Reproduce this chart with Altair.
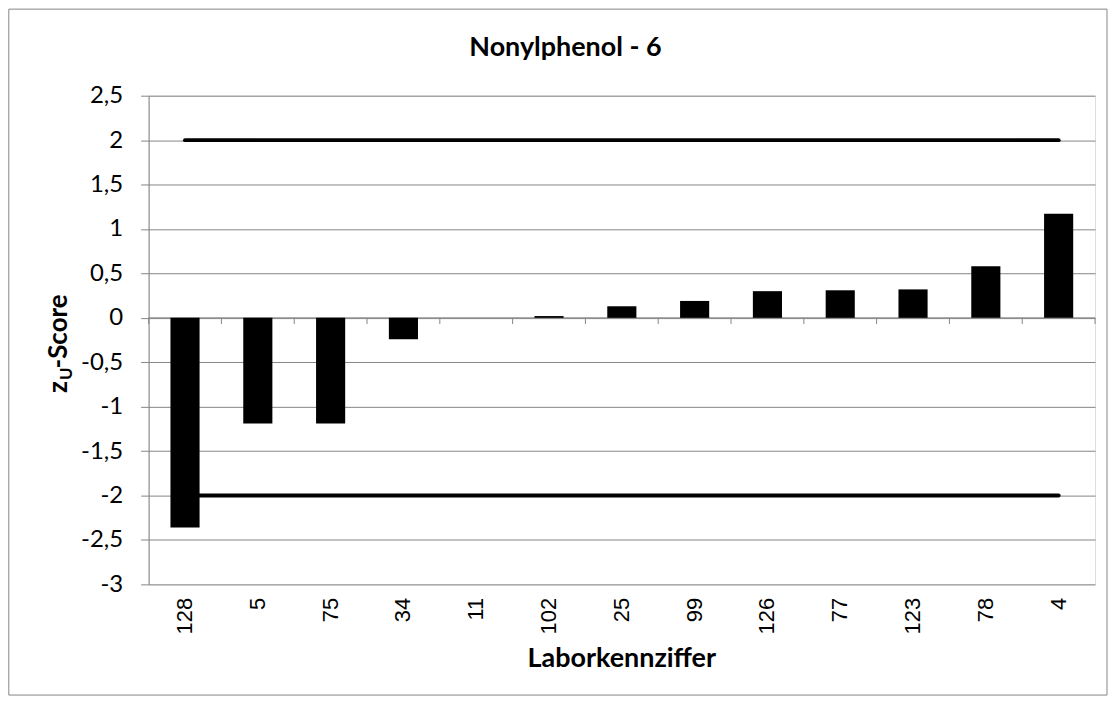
import altair as alt
import pandas as pd

# ---- data ----
labs = ["128", "5", "75", "34", "11", "102", "25", "99", "126", "77", "123", "78", "4"]
zscores = [-2.36, -1.19, -1.19, -0.24, 0.0, 0.02, 0.13, 0.19, 0.30, 0.31, 0.32, 0.58, 1.17]
limit_upper = 2
limit_lower = -2
y_ticks = [-3, -2.5, -2, -1.5, -1, -0.5, 0, 0.5, 1, 1.5, 2, 2.5]
title_text = "Nonylphenol - 6"
x_title = "Laborkennziffer"

W = 949
H = 490
GRAY = "#868686"

df = pd.DataFrame({"Lab": labs, "z": zscores})
lim = pd.DataFrame({
    "Lab": [labs[0], labs[-1], labs[0], labs[-1]],
    "z": [limit_upper, limit_upper, limit_lower, limit_lower],
    "grp": ["o", "o", "u", "u"],
})
one = pd.DataFrame({"k": [0]})

xenc = alt.X(
    "Lab:N",
    sort=labs,
    scale=alt.Scale(paddingInner=0, paddingOuter=0),
    title=None,
    axis=alt.Axis(
        ticks=False, domain=False, grid=False,
        labelAngle=-90, labelFont="Liberation Sans", labelFontSize=22,
        labelColor="black", labelPadding=13,
    ),
)
yenc = alt.Y(
    "z:Q",
    scale=alt.Scale(domain=[-3, 2.5], nice=False, zero=False),
    title=None,
    axis=alt.Axis(
        values=y_ticks,
        labelExpr="replace(toString(datum.value), '.', ',')",
        grid=True, gridColor=GRAY, gridWidth=1,
        domainColor=GRAY, tickColor=GRAY, tickSize=8,
        labelFont="Lato", labelFontSize=24, labelColor="black", labelPadding=18,
    ),
)

zero_line = alt.Chart(one).mark_rule(color=GRAY, strokeWidth=1).encode(
    x=alt.value(0), x2=alt.value(W), y=alt.datum(0)
)
bars = alt.Chart(df).mark_bar(color="black", width=alt.RelativeBandSize(0.4)).encode(
    x=xenc, y=yenc
)
ticks = alt.Chart(df).mark_rule(color=GRAY, strokeWidth=1).encode(
    x=alt.X("Lab:N", sort=labs, bandPosition=0),
    y=alt.datum(0), y2=alt.datum(-0.07),
)
end_tick = alt.Chart(one).mark_rule(color=GRAY, strokeWidth=1).encode(
    x=alt.value(W), y=alt.datum(0), y2=alt.datum(-0.07)
)
lines = alt.Chart(lim).mark_line(color="black", strokeWidth=4, strokeCap="round").encode(
    x=alt.X("Lab:N", sort=labs), y=alt.Y("z:Q"), detail="grp:N"
)

tfont = dict(font="Lato", fontWeight="bold", angle=270, align="left",
             baseline="alphabetic", color="black")
t_z = alt.Chart(one).mark_text(text="z", fontSize=26, **tfont).encode(
    x=alt.value(-82), y=alt.value(298))
t_u = alt.Chart(one).mark_text(text="U", fontSize=17, **tfont).encode(
    x=alt.value(-77), y=alt.value(285))
t_s = alt.Chart(one).mark_text(text="-Score", fontSize=26, **tfont).encode(
    x=alt.value(-82), y=alt.value(273.5))

ctr = dict(font="Lato", fontWeight="bold", align="center", baseline="alphabetic",
           color="black", fontSize=27)
t_title = alt.Chart(one).mark_text(text=title_text, **ctr).encode(
    x=alt.value(418), y=alt.value(-40))
t_xtitle = alt.Chart(one).mark_text(text=x_title, **ctr).encode(
    x=alt.value(W / 2), y=alt.value(573))

frame = alt.Chart(one).mark_rect(fillOpacity=0, stroke=GRAY, strokeWidth=1).encode(
    x=alt.value(-140.2), x2=alt.value(W + 12), y=alt.value(-86.8), y2=alt.value(H + 111)
)

chart = alt.layer(
    frame, zero_line, bars, ticks, end_tick, lines,
    t_z, t_u, t_s, t_title, t_xtitle
).properties(
    width=W, height=H,
    autosize=alt.AutoSizeParams(type="none"),
    padding={"left": 141, "top": 87, "right": 14, "bottom": 115},
).configure_view(stroke=None).configure(background="white")

chart.save("out.html", embed_options={"renderer": "svg", "actions": False})
